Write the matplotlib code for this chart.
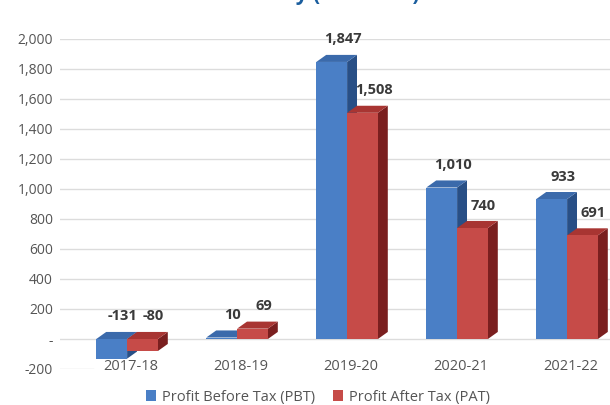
import numpy as np
import matplotlib.pyplot as plt
from matplotlib.patches import Polygon, Patch

years = ['2017-18', '2018-19', '2019-20', '2020-21', '2021-22']
pbt = [-131, 10, 1847, 1010, 933]
pat = [-80, 69, 1508, 740, 691]

yticks = [-200, 0, 200, 400, 600, 800, 1000, 1200, 1400, 1600, 1800, 2000]
ytick_labels = ['-200', '-', '200', '400', '600', '800', '1,000', '1,200',
                '1,400', '1,600', '1,800', '2,000']

# face colours: front, top, side
blue = ('#4a7fc6', '#3b6aab', '#284f86')
red = ('#c64b48', '#a83532', '#7a1f1f')

bw = 0.28     # bar width (category units)
dx = 0.09     # depth offset in x
dy = 47       # depth offset in y (data units)

plt.rcParams['font.family'] = ['Open Sans', 'DejaVu Sans']

fig = plt.figure(figsize=(6.1, 4.05), dpi=100)
fig.patch.set_facecolor('white')
ax = fig.add_axes([60/610, 36/405, 550/610, 330/405])
ax.set_xlim(-0.61, 4.39)
ax.set_ylim(-200, 2000)

for y in yticks[1:]:
    ax.axhline(y, color='#dcdcdc', lw=1, zorder=0)
ax.axhline(-200, xmax=0.06, color='#dcdcdc', lw=1, zorder=0)


def bar3d(x0, v, cols):
    top = max(v, 0)
    bot = min(v, 0)
    front = Polygon([(x0, bot), (x0 + bw, bot), (x0 + bw, top), (x0, top)],
                    closed=True, fc=cols[0], ec='none', zorder=2)
    lid = Polygon([(x0, top), (x0 + bw, top), (x0 + bw + dx, top + dy),
                   (x0 + dx, top + dy)], closed=True, fc=cols[1], ec='none', zorder=2)
    side = Polygon([(x0 + bw, bot), (x0 + bw + dx, bot + dy),
                    (x0 + bw + dx, top + dy), (x0 + bw, top)],
                   closed=True, fc=cols[2], ec='none', zorder=2)
    for p in (side, lid, front):
        ax.add_patch(p)


for i in range(len(years)):
    bar3d(i - bw, pbt[i], blue)
    bar3d(i, pat[i], red)
    for xc, v in ((i - bw / 2, pbt[i]), (i + bw / 2, pat[i])):
        ax.text(xc + 0.1, max(v, 0) + 150, f'{v:,}', ha='center', va='center',
                fontsize=10.5, fontweight='bold', color='#3a3a3a', clip_on=False)

ax.set_yticks(yticks)
ax.set_yticklabels(ytick_labels)
ax.set_xticks([])
for i, yr in enumerate(years):
    ax.text(i + 0.03, -180, yr, ha='center', va='center', fontsize=10.5,
            color='#555555', clip_on=False)

ax.tick_params(axis='y', length=0, pad=5, labelsize=10, labelcolor='#555555')
for s in ax.spines.values():
    s.set_visible(False)

# heading sits mostly above the visible area
fig.text(420/610, 1 - 5/405, 'Profitability (Rs. Crore)', ha='right', va='bottom',
         fontsize=15, fontweight='bold', color='#1b5e9e')

handles = [Patch(fc=blue[0], label='Profit Before Tax (PBT)'),
           Patch(fc=red[0], label='Profit After Tax (PAT)')]
fig.legend(handles=handles, loc='center', bbox_to_anchor=(318/610, 8/405), ncol=2,
           frameon=False, fontsize=10.5, handlelength=0.7, handleheight=0.7,
           handletextpad=0.4, columnspacing=1.2, labelcolor='#555555')

fig.savefig('out.png', dpi=100)
